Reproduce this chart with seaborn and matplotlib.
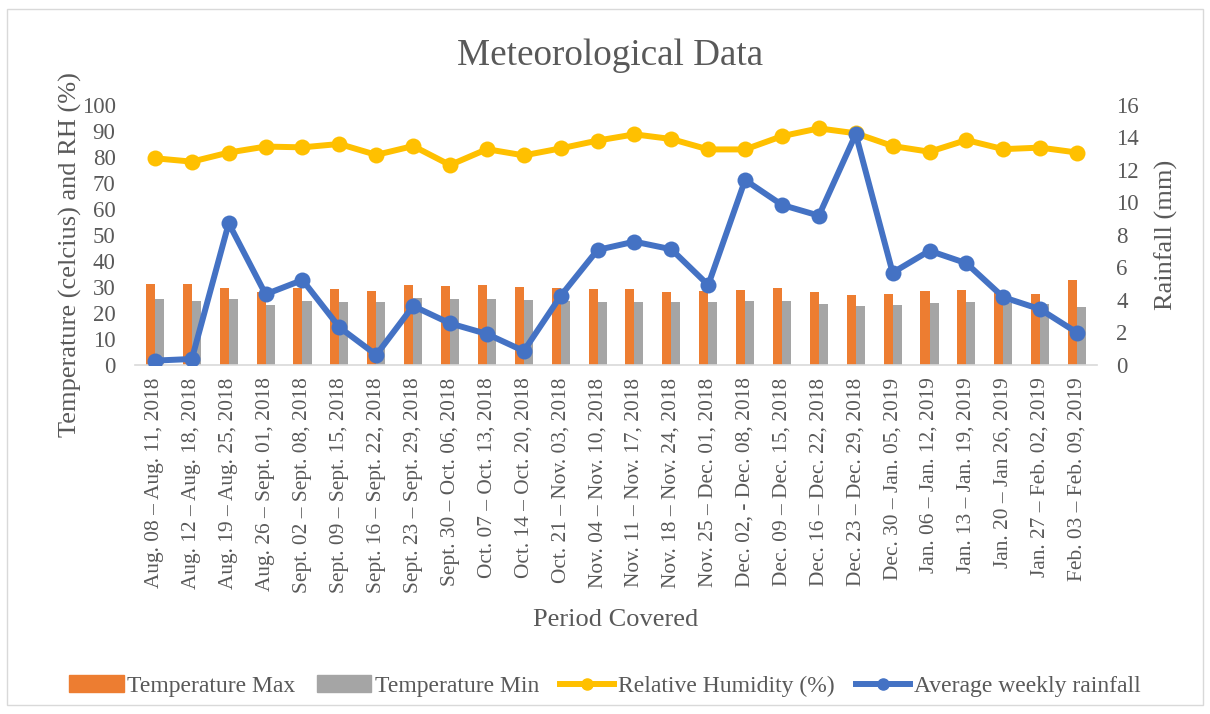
import numpy as np
import pandas as pd
import matplotlib
matplotlib.use("Agg")
import matplotlib.pyplot as plt
from matplotlib.patches import Patch, Rectangle
from matplotlib.lines import Line2D
import seaborn as sns

periods = ["Aug. 08 – Aug. 11, 2018", "Aug. 12 – Aug. 18, 2018", "Aug. 19 – Aug. 25, 2018",
           "Aug. 26 – Sept. 01, 2018", "Sept. 02 – Sept. 08, 2018", "Sept. 09 – Sept. 15, 2018",
           "Sept. 16 – Sept. 22, 2018", "Sept. 23 – Sept. 29, 2018", "Sept. 30 – Oct. 06, 2018",
           "Oct. 07 – Oct. 13, 2018", "Oct. 14 – Oct. 20, 2018", "Oct. 21 – Nov. 03, 2018",
           "Nov. 04 – Nov. 10, 2018", "Nov. 11 – Nov. 17, 2018", "Nov. 18 – Nov. 24, 2018",
           "Nov. 25 – Dec. 01, 2018", "Dec. 02, - Dec. 08, 2018", "Dec. 09 – Dec. 15, 2018",
           "Dec. 16 – Dec. 22, 2018", "Dec. 23 – Dec. 29, 2018", "Dec. 30 – Jan. 05, 2019",
           "Jan. 06 – Jan. 12, 2019", "Jan. 13 – Jan. 19, 2019", "Jan. 20 – Jan 26, 2019",
           "Jan. 27 – Feb. 02, 2019", "Feb. 03 – Feb. 09, 2019"]

temp_max = [31.2, 31.2, 29.7, 28.1, 29.7, 29.1, 28.5, 30.8, 30.4, 30.8, 30.1, 29.6, 29.4,
            29.2, 28.1, 28.5, 28.8, 29.7, 27.9, 27.0, 27.3, 28.6, 28.7, 27.6, 27.3, 32.7]
temp_min = [25.3, 24.6, 25.4, 23.2, 24.6, 24.4, 24.2, 25.9, 25.3, 25.3, 25.0, 24.6, 24.4,
            24.2, 24.1, 24.1, 24.6, 24.6, 23.6, 22.8, 23.2, 23.8, 24.2, 24.0, 23.6, 22.4]
humidity = [79.5, 78.2, 81.7, 84.0, 83.7, 85.0, 80.8, 84.2, 76.9, 83.0, 80.6, 83.3, 86.3,
            88.7, 86.9, 82.9, 82.9, 88.0, 91.0, 89.1, 84.2, 82.0, 86.5, 83.0, 83.6, 81.7]
rainfall = [0.27, 0.37, 8.72, 4.35, 5.23, 2.32, 0.62, 3.63, 2.56, 1.91, 0.86, 4.25, 7.08,
            7.59, 7.12, 4.92, 11.38, 9.85, 9.19, 14.2, 5.68, 7.03, 6.26, 4.17, 3.43, 1.99]

ORANGE = "#ED7D31"
GRAY = "#A5A5A5"
YELLOW = "#FFC000"
BLUE = "#4472C4"
TXT = "#595959"

plt.rcParams["font.family"] = ["Liberation Serif", "DejaVu Serif"]

bars = pd.DataFrame({
    "period": periods * 2,
    "value": temp_max + temp_min,
    "series": ["Temperature Max"] * len(periods) + ["Temperature Min"] * len(periods),
})

fig = plt.figure(figsize=(12.1, 7.14), dpi=100)
ax = fig.add_axes([0.1116, 0.4888, 0.795, 0.3642])
sns.barplot(data=bars, x="period", y="value", hue="series", ax=ax,
            palette=[ORANGE, GRAY], width=0.49, gap=0, legend=False, saturation=1)

ax2 = ax.twinx()
x = np.arange(len(periods))
sns.lineplot(x=x, y=humidity, ax=ax, color=YELLOW, linewidth=4.3, marker="o",
             markersize=11.5, markeredgewidth=0, zorder=5)
sns.lineplot(x=x, y=rainfall, ax=ax2, color=BLUE, linewidth=4.3, marker="o",
             markersize=11.5, markeredgewidth=0, zorder=5)

n = len(periods)
ax.set_xlim(-0.54, n - 1 + 0.54)
ax.set_ylim(0, 100)
ax.set_yticks(range(0, 101, 10))
ax2.set_ylim(0, 16)
ax2.set_yticks(range(0, 17, 2))

ax.set_xticks(x)
ax.set_xticklabels(periods, rotation=90, color=TXT)
for a in (ax, ax2):
    a.tick_params(length=0, labelsize=16.5, labelcolor=TXT, pad=14)
    for s in a.spines.values():
        s.set_visible(False)
ax.tick_params(axis="x", labelsize=15.4, pad=9)
ax.spines["bottom"].set_visible(True)
ax.spines["bottom"].set_color("#D9D9D9")
ax.spines["bottom"].set_linewidth(1.2)

ax.set_ylabel("Temperature (celcius) and RH (%)", fontsize=19, color=TXT)
ax.yaxis.set_label_coords(-0.055, 0.423)
ax2.set_ylabel("Rainfall (mm)", fontsize=19, color=TXT)
ax2.yaxis.set_label_coords(1.06, 0.5)
ax.set_xlabel("Period Covered", fontsize=19, color=TXT)
ax.xaxis.set_label_coords(0.5, -0.938)

fig.text(0.504, 0.922, "Meteorological Data", ha="center", va="center",
         fontsize=26.7, color=TXT)

handles = [Patch(color=ORANGE), Patch(color=GRAY),
           Line2D([], [], color=YELLOW, lw=4.3, marker="o", markersize=8),
           Line2D([], [], color=BLUE, lw=4.3, marker="o", markersize=8)]
labels = ["Temperature Max", "Temperature Min", "Relative Humidity (%)", "Average weekly rainfall"]
leg = fig.legend(handles, labels, loc="center", bbox_to_anchor=(0.5, 0.039), ncol=4,
                 frameon=False, fontsize=17, handlelength=2.3, handletextpad=0.15,
                 columnspacing=0.9, labelcolor=TXT)

fig.patches.append(Rectangle((0.006, 0.012), 0.988, 0.975, transform=fig.transFigure,
                             fill=False, edgecolor="#D9D9D9", linewidth=1))

fig.savefig("out.png", dpi=100)
